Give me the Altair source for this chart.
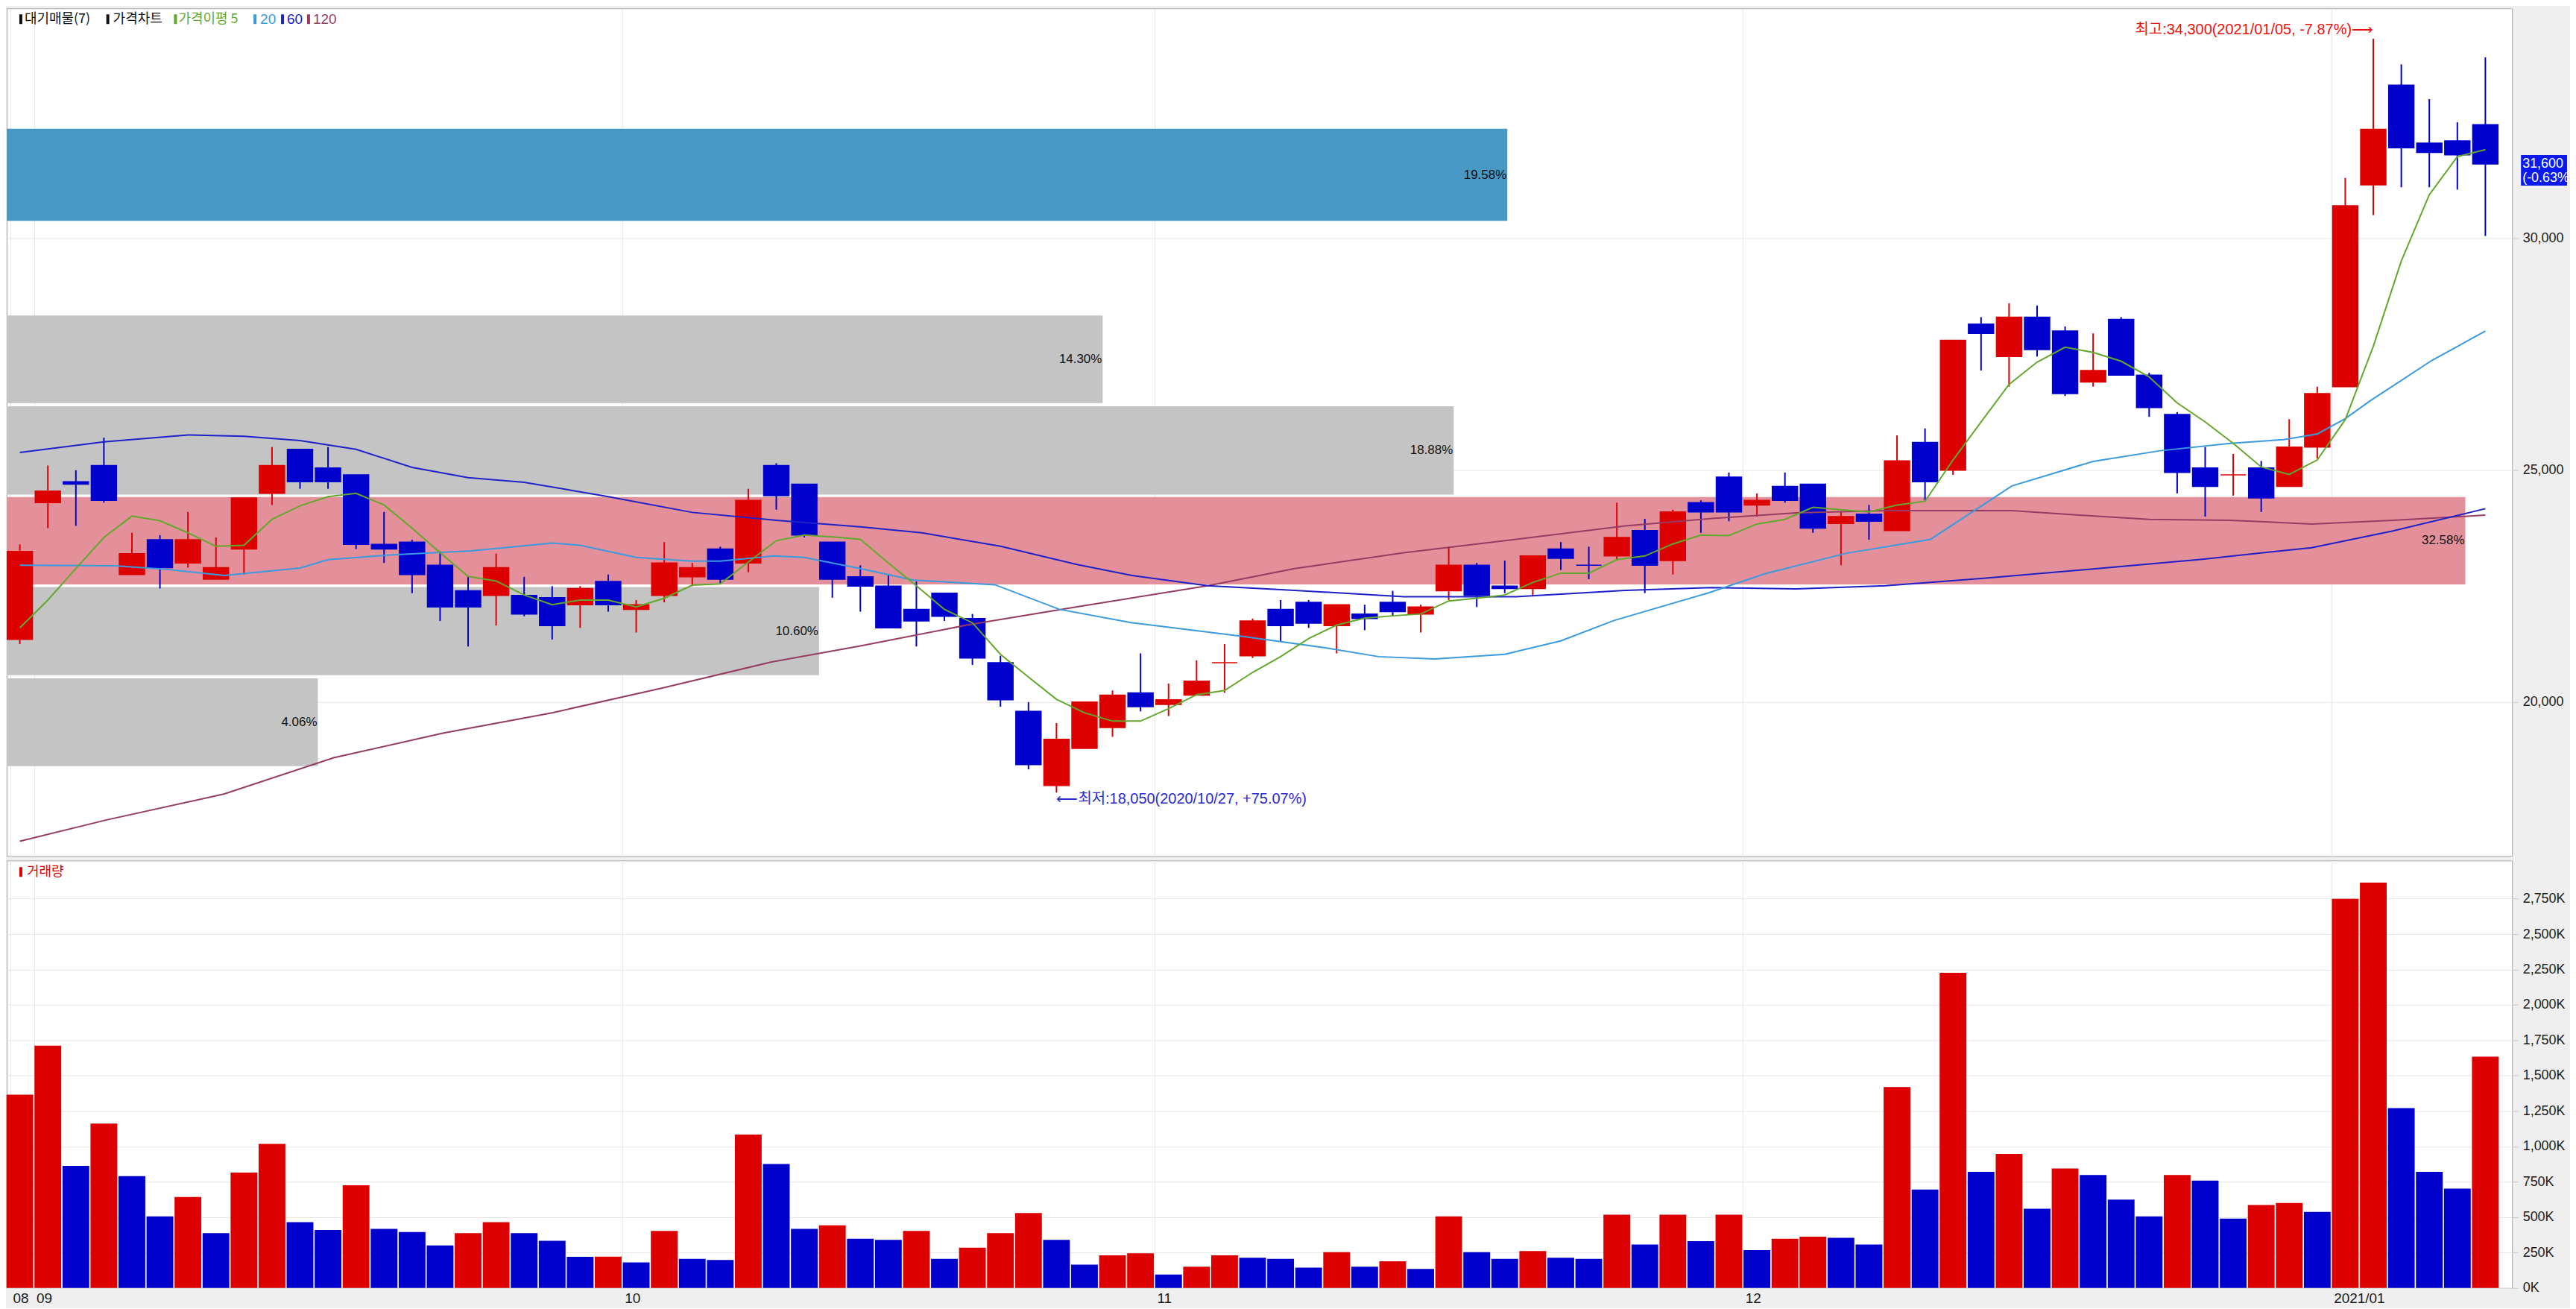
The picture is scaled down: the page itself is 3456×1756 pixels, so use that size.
import altair as alt
import pandas as pd

# ---------------- data ----------------
opens = [21350, 24300, 24750, 25100, 22750, 23500, 23000, 22650, 23300, 24500,
         25450, 25050, 24900, 23400, 23450, 22950, 22400, 22300, 22300, 22250,
         22100, 22600, 22000, 22300, 22700, 23300, 23000, 25100, 24700, 23450,
         22700, 22500, 22000, 22350, 21800, 20850, 19800, 18200, 19000, 19450,
         20200, 19950, 20150, 20850, 21000, 22000, 22150, 21650, 21900, 22150,
         21900, 22400, 22950, 22500, 22450, 23300, 22950, 23150, 23700, 23050,
         24300, 24850, 24250, 24650, 24700, 23850, 24050, 23700, 25600, 25000,
         28150, 27450, 28300, 28000, 26900, 28250, 27050, 26200, 25050, 24900,
         25050, 24650, 25500, 26800, 31150, 33300, 32050, 32100, 32450]
highs = [23400, 25100, 25000, 25700, 23650, 23600, 24100, 23550, 24400, 25500,
         25450, 25500, 24900, 24100, 23500, 23250, 22700, 23200, 22700, 22500,
         22500, 22750, 22200, 23450, 23000, 23350, 24600, 25150, 24700, 23450,
         22950, 22750, 22600, 22350, 21900, 21000, 20000, 19550, 20000, 20250,
         21050, 20400, 20900, 21250, 21800, 22200, 22200, 22100, 22100, 22400,
         22100, 23350, 23000, 23050, 23150, 23450, 23350, 24300, 23950, 24150,
         24350, 24950, 24500, 24950, 24700, 24100, 24250, 25750, 25900, 27800,
         28300, 28600, 28550, 28100, 27950, 28300, 27100, 26250, 25500, 25350,
         25200, 26100, 26800, 31300, 34300, 33750, 33000, 32500, 33900]
lows = [21250, 23750, 23800, 24300, 22750, 22450, 22900, 22650, 22750, 24250,
        24600, 24600, 23300, 23000, 22350, 21750, 21200, 21650, 21850, 21350,
        21600, 21950, 21500, 22150, 22500, 22550, 22800, 24150, 23550, 22250,
        21950, 21600, 21200, 21750, 20800, 19900, 18550, 18050, 19000, 19250,
        19800, 19700, 20150, 20200, 20950, 21300, 21600, 21050, 21550, 21850,
        21500, 22200, 22050, 22350, 22300, 22850, 22650, 23050, 22350, 22750,
        23650, 23900, 24000, 24300, 23650, 22950, 23500, 23700, 24350, 24900,
        27150, 26800, 27450, 26600, 26800, 27050, 26150, 24500, 24000, 24450,
        24100, 24650, 25250, 26800, 30500, 31100, 31100, 31050, 30050]
closes = [23250, 24550, 24700, 24350, 23200, 22900, 23500, 22900, 24400, 25100,
          24750, 24750, 23400, 23300, 22750, 22050, 22050, 22900, 21900, 21650,
          22450, 22100, 22100, 23000, 22900, 22650, 24350, 24450, 23600, 22650,
          22500, 21600, 21750, 21850, 20950, 20050, 18650, 19200, 20000, 20150,
          19900, 20050, 20450, 20850, 21750, 21650, 21700, 22100, 21800, 21950,
          22050, 22950, 22300, 22450, 23150, 23100, 22950, 23550, 22950, 24100,
          24100, 24100, 24350, 24350, 23750, 24000, 23900, 25200, 24750, 27800,
          27950, 28300, 27600, 26650, 27150, 27050, 26350, 24950, 24650, 24900,
          24400, 25500, 26650, 30700, 32350, 31950, 31850, 31800, 31600]
volume_k = [1366, 1712, 862, 1161, 790, 506, 642, 387, 815, 1018,
            465, 410, 726, 418, 395, 300, 387, 465, 387, 333,
            220, 222, 181, 403, 206, 198, 1084, 875, 418, 442,
            348, 340, 403, 206, 284, 387, 529, 340, 165, 230,
            245, 95, 150, 230, 214, 206, 144, 253, 150, 189,
            134, 506, 253, 206, 261, 214, 206, 517, 307, 517,
            331, 517, 268, 348, 362, 354, 307, 1420, 695, 2226,
            821, 947, 560, 844, 798, 624, 506, 798, 759, 490,
            586, 601, 537, 2749, 2864, 1270, 821, 702, 1634]

ma5_values = [21600, 22200, 22880, 23550, 24010, 23910, 23650, 23360, 23380, 23940,
              24230, 24430, 24500, 24250, 23750, 23220, 22710, 22610, 22310, 22100,
              22200, 22200, 22050, 22240, 22520, 22550, 23020, 23480, 23600, 23560,
              23510, 23000, 22510, 22000, 21710, 21030, 20540, 20060, 19770, 19590,
              19590, 19860, 20160, 20250, 20640, 20980, 21370, 21660, 21810, 21860,
              21900, 22180, 22240, 22310, 22580, 22780, 22780, 23070, 23150, 23410,
              23600, 23590, 23840, 23940, 24200, 24150, 24100, 24250, 24330, 25220,
              26040, 26850, 27330, 27650, 27540, 27350, 27010, 26450, 26040, 25580,
              25070, 24910, 25220, 26090, 27670, 29510, 30940, 31760, 31910]
ma20_idx = [0, 3.4, 5.3, 7.3, 10, 11, 13.2, 16.1, 19, 20, 22, 24, 25, 26.9, 28, 30,
            31.9, 34.8, 37.1, 39.7, 43.6, 46.5, 48.5, 50.5, 53, 55, 56.9, 60.3, 62.3,
            65.2, 68.2, 71.1, 74, 76.4, 78.9, 80.8, 82, 83, 83.9, 86.1, 88]
ma20_values = [22950, 22940, 22860, 22730, 22890, 23070, 23170, 23260, 23430, 23380,
               23120, 23040, 23040, 23150, 23120, 22880, 22630, 22530, 22000, 21710,
               21420, 21180, 20980, 20930, 21030, 21320, 21760, 22360, 22770, 23210,
               23510, 24660, 25190, 25420, 25580, 25660, 25780, 26110, 26500, 27370, 28000]
ma60_idx = [0, 3, 6, 8, 10, 12, 14, 16, 18, 21, 24, 27, 30, 32.2, 35, 37.7, 39.7,
            42.4, 45.5, 49.4, 53.4, 57.3, 60.4, 63.4, 66.6, 70.1, 74, 77.9, 81.8, 84.7, 88]
ma60_values = [25380, 25610, 25760, 25730, 25640, 25450, 25060, 24840, 24740, 24430,
               24090, 23920, 23780, 23650, 23360, 22970, 22730, 22510, 22410, 22270,
               22270, 22410, 22470, 22440, 22510, 22670, 22870, 23080, 23330, 23690, 24170]
ma120_idx = [0, 3.1, 7.3, 11.2, 15.1, 19, 22.9, 26.8, 30, 33.8, 37.7, 42.4, 45.5,
             49.4, 53.4, 57.3, 60.4, 63.4, 66.6, 71.1, 73, 76, 78.9, 81.8, 84.7, 88]
ma120_values = [17000, 17460, 18020, 18800, 19330, 19770, 20300, 20860, 21210, 21660,
                22050, 22510, 22880, 23220, 23510, 23800, 23960, 24080, 24130, 24130,
                24050, 23940, 23920, 23840, 23920, 24030]

band_low = [18620, 20580, 22535, 24475, 26445, 30375]
band_high = [20510, 22480, 24420, 26380, 28335, 32360]
band_pct = [4.06, 10.60, 32.58, 18.88, 14.30, 19.58]

month_labels = ["08", "09", "10", "11", "12", "2021/01"]
month_first_idx = [0, 1, 22, 41, 62, 83]
price_ticks = [20000, 25000, 30000]
volume_ticks = [0, 250000, 500000, 750000, 1000000, 1250000, 1500000, 1750000,
                2000000, 2250000, 2500000, 2750000]
holidays = ["2020-09-30", "2020-10-01", "2020-10-02", "2020-10-09",
            "2020-12-25", "2020-12-31", "2021-01-01"]

# ---------------- styles / layout ----------------
RED = "#dd0000"
BLUE = "#0000cc"
GRID = "#e6e6e6"
BG = "#efefef"
MA_COLORS = {"5": "#62a82c", "20": "#3a9ae0", "60": "#2020c8", "120": "#963c64"}
BAND_COLORS = {"cur": "#4898c6", "max": "#e4909a", "other": "#c4c4c4"}
FONT_NUM = "Liberation Sans, Noto Sans CJK KR, sans-serif"
FONT_KR = "Noto Sans CJK KR, sans-serif"

W = 3370
H_TOP = 1140
H_VOL = 575
X_DOMAIN = [-0.336, 88.82]
PRICE_DOMAIN = [16682, 34956]
VOL_DOMAIN = [0, 3020000]
BAND_DOMAIN = [0, 32.69]
BAND_CAP = 32.08

# ---------------- derived tables ----------------
dates = [d for d in pd.bdate_range("2020-08-31", "2021-01-11")
         if d.strftime("%Y-%m-%d") not in holidays]
n = len(closes)
dirs = []
for k in range(n):
    if closes[k] > opens[k]:
        dirs.append(RED)
    elif closes[k] < opens[k]:
        dirs.append(BLUE)
    else:
        dirs.append(RED if k == 0 or closes[k] >= closes[k - 1] else BLUE)
vdirs = [RED if k == 0 or volume_k[k] >= volume_k[k - 1] else BLUE for k in range(n)]

candles = pd.DataFrame({
    "i": list(range(n)),
    "date": [d.strftime("%Y/%m/%d") for d in dates[:n]],
    "o": opens, "h": highs, "l": lows, "c": closes,
    "lo": [min(a, b) for a, b in zip(opens, closes)],
    "hi": [max(a, b) for a, b in zip(opens, closes)],
    "col": dirs,
    "vol": [v * 1000 for v in volume_k],
    "vcol": vdirs,
})

ma_sets = {
    "120": pd.DataFrame({"i": ma120_idx, "v": ma120_values}),
    "60": pd.DataFrame({"i": ma60_idx, "v": ma60_values}),
    "20": pd.DataFrame({"i": ma20_idx, "v": ma20_values}),
    "5": pd.DataFrame({"i": list(range(n)), "v": ma5_values}),
}

last_close = closes[-1]
bands = pd.DataFrame({"low": band_low, "high": band_high, "pct": band_pct})
bands["mid"] = (bands["low"] + bands["high"]) / 2
bands["zero"] = 0
bands["label"] = [f"{p:.2f}%" for p in band_pct]
bands["col"] = [BAND_COLORS["cur"] if lo <= last_close <= hi else
                (BAND_COLORS["max"] if p == max(band_pct) else BAND_COLORS["other"])
                for lo, hi, p in zip(band_low, band_high, band_pct)]

hi_i = max(range(n), key=lambda k: highs[k])
lo_i = min(range(n), key=lambda k: lows[k])
hi_df = pd.DataFrame({"i": [hi_i], "p": [highs[hi_i]],
                      "t": [f"최고:{highs[hi_i]:,}({candles.date[hi_i]}, {(last_close / highs[hi_i] - 1) * 100:+.2f}%)⟶"]})
lo_df = pd.DataFrame({"i": [lo_i], "p": [lows[lo_i]],
                      "t": [f"⟵최저:{lows[lo_i]:,}({candles.date[lo_i]}, {(last_close / lows[lo_i] - 1) * 100:+.2f}%)"]})
chg = (closes[-1] / closes[-2] - 1) * 100
last_df = pd.DataFrame({"c": [last_close], "t1": [f"{last_close:,}"], "t2": [f"({chg:+.2f}%"]})

tick_vals = [max(f - 0.5, X_DOMAIN[0]) for f in month_first_idx]
label_expr = "''"
for t, lab in reversed(list(zip(tick_vals, month_labels))):
    label_expr = f"abs(datum.value - ({t})) < 0.01 ? '{lab}' : ({label_expr})"

# ---------------- encodings ----------------
x_scale = alt.Scale(domain=X_DOMAIN, nice=False, zero=False)
x_top_axis = alt.Axis(values=tick_vals, grid=True, gridColor=GRID, labels=False,
                      ticks=False, domain=False, title=None)
x_bot_axis = alt.Axis(values=tick_vals, grid=True, gridColor=GRID, labelExpr=label_expr,
                      labelAlign="left", labelOffset=3, labelPadding=5, ticks=False,
                      domain=False, title=None, labelFont=FONT_NUM, labelFontSize=19,
                      labelColor="#1a1a1a")


def xT(field="i"):
    return alt.X(field, type="quantitative", scale=x_scale, axis=x_top_axis)


def xB(field="i"):
    return alt.X(field, type="quantitative", scale=x_scale, axis=x_bot_axis)


price_scale = alt.Scale(domain=PRICE_DOMAIN, nice=False, zero=False)
price_axis = alt.Axis(orient="right", values=price_ticks, labelExpr="format(datum.value, ',')",
                      grid=True, gridColor=GRID, domain=False, tickSize=8, tickColor="#c8c8c8",
                      labelFont=FONT_NUM, labelFontSize=18, labelColor="#1a1a1a",
                      labelPadding=6, labelAlign="left", title=None)


def yP(field):
    return alt.Y(field, type="quantitative", scale=price_scale, axis=price_axis)


vol_axis = alt.Axis(orient="right", values=volume_ticks, grid=True, gridColor=GRID,
                    labelExpr="format(datum.value / 1000, ',') + 'K'", domain=False,
                    tickSize=8, tickColor="#c8c8c8", labelFont=FONT_NUM, labelFontSize=18,
                    labelColor="#1a1a1a", labelPadding=6, labelAlign="left", title=None)
vol_y = alt.Y("vol:Q", scale=alt.Scale(domain=VOL_DOMAIN, nice=False), axis=vol_axis)

one = pd.DataFrame({"k": [0]})


def txt(t, x, y, color, size=18, font=FONT_KR, align="left"):
    return alt.Chart(one).mark_text(text=t, align=align, baseline="middle", font=font,
                                    fontSize=size, color=color).encode(x=alt.value(x), y=alt.value(y))


def marker(x, y, color):
    return alt.Chart(one).mark_rect(color=color).encode(
        x=alt.value(x), x2=alt.value(x + 4), y=alt.value(y), y2=alt.value(y + 13))


# ---------------- top panel ----------------
band_x = alt.Scale(domain=BAND_DOMAIN, nice=False)
band_rect = alt.Chart(bands).transform_calculate(
    pc=f"min(datum.pct, {BAND_CAP})"
).mark_rect().encode(
    x=alt.X("zero:Q", scale=band_x, axis=None),
    x2="pc:Q",
    y=yP("low"), y2="high:Q",
    color=alt.Color("col:N", scale=None),
)
band_text = alt.Chart(bands).transform_calculate(
    pc=f"min(datum.pct, {BAND_CAP})"
).mark_text(align="right", baseline="middle", dx=-1, font=FONT_NUM, fontSize=17, color="#111111").encode(
    x=alt.X("pc:Q", scale=band_x, axis=None),
    y=yP("mid"), text="label:N",
)
band_layer = alt.layer(band_rect, band_text)

wicks = alt.Chart(candles).mark_rule(strokeWidth=2).encode(
    x=xT(), y=yP("l"), y2="h:Q", color=alt.Color("col:N", scale=None))
bodies = alt.Chart(candles).mark_bar(size=34, strokeWidth=1.5).encode(
    x=xT(), y=yP("lo"), y2="hi:Q", color=alt.Color("col:N", scale=None),
    stroke=alt.Stroke("col:N", scale=None))
ma_lines = [alt.Chart(df).mark_line(strokeWidth=2, color=MA_COLORS[s]).encode(
    x=xT(), y=yP("v"), order="i:Q") for s, df in ma_sets.items()]
hi_text = alt.Chart(hi_df).mark_text(align="right", baseline="middle", dx=0, dy=-12,
                                     font=FONT_NUM, fontSize=20, color="#ee1111").encode(
    x=xT(), y=yP("p"), text="t:N")
lo_text = alt.Chart(lo_df).mark_text(align="left", baseline="middle", dx=0, dy=9,
                                     font=FONT_NUM, fontSize=20, color="#2a2ad0").encode(
    x=xT(), y=yP("p"), text="t:N")
box = alt.Chart(last_df).mark_rect(color="#0a1aee", yOffset=-12, y2Offset=29).encode(
    x=alt.value(W + 12), x2=alt.value(W + 74), y=yP("c"), y2="c:Q")
box_t1 = alt.Chart(last_df).mark_text(align="left", baseline="middle", font=FONT_NUM,
                                      fontSize=18, color="white").encode(
    x=alt.value(W + 14), y=yP("c"), text="t1:N")
box_t2 = alt.Chart(last_df).mark_text(align="left", baseline="middle", dy=19, font=FONT_NUM,
                                      fontSize=18, color="white").encode(
    x=alt.value(W + 14), y=yP("c"), text="t2:N")

HY = 15
header = [
    marker(17, HY - 7, "#111111"), txt("대기매물(7)", 24, HY, "#111111"),
    marker(134, HY - 7, "#111111"), txt("가격차트", 143, HY, "#111111"),
    marker(225, HY - 7, MA_COLORS["5"]), txt("가격이평 5", 231, HY, MA_COLORS["5"]),
    marker(332, HY - 7, MA_COLORS["20"]), txt("20", 341, HY, MA_COLORS["20"], font=FONT_NUM, size=19),
    marker(369, HY - 7, MA_COLORS["60"]), txt("60", 377, HY, MA_COLORS["60"], font=FONT_NUM, size=19),
    marker(404, HY - 7, MA_COLORS["120"]), txt("120", 412, HY, MA_COLORS["120"], font=FONT_NUM, size=19),
]

inner_top = alt.layer(wicks, bodies, *ma_lines, hi_text, lo_text, box, box_t1, box_t2, *header)
top = alt.layer(band_layer, inner_top).resolve_scale(x="independent").properties(width=W, height=H_TOP)

# ---------------- volume panel ----------------
vol_bars = alt.Chart(candles).mark_bar(size=36).encode(
    x=xB(), y=vol_y, color=alt.Color("vcol:N", scale=None))
vol_header = [marker(17, 9, RED), txt("거래량", 27, 16, RED)]
bottom = alt.layer(vol_bars, *vol_header).properties(width=W, height=H_VOL)

chart = alt.vconcat(top, bottom, spacing=4).properties(
    padding=0, background=BG
).configure_view(fill="white", stroke="#a8a8a8", strokeWidth=1)

chart.save("out.html", embed_options={"renderer": "svg", "actions": False})
